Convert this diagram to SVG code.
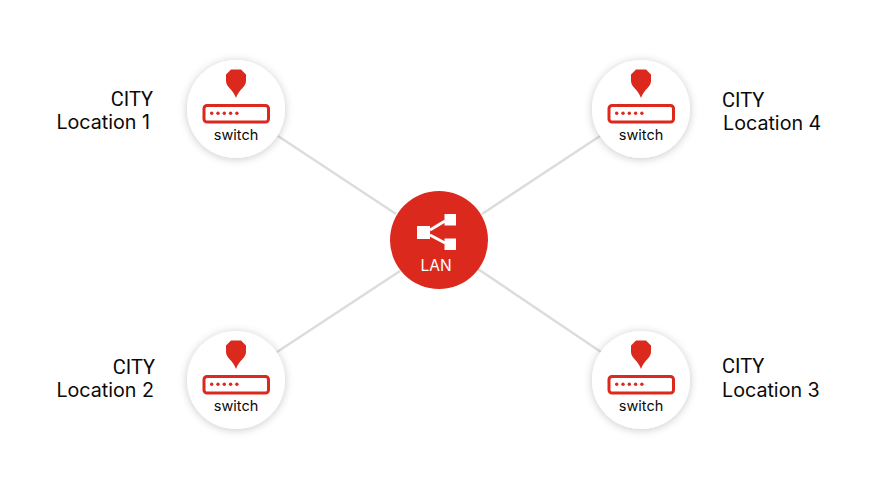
<svg xmlns="http://www.w3.org/2000/svg" width="874" height="488" viewBox="0 0 874 488">
<style>
text{font-family:Inter,Roboto,"Liberation Sans",sans-serif}
.disc{fill:#fff;filter:url(#sh)}
.box{fill:#fff;stroke:#dc291e;stroke-width:3}
.pin,.dot{fill:#dc291e}
.sw{font-size:14.500px;fill:#0a0a0a;text-anchor:middle}
.city{font-size:19.700px;fill:#0a0a0a}
.cap{font-family:Roboto,"Liberation Sans",sans-serif;font-size:20px}
.end{text-anchor:end}
.link{stroke:#dcdcdc;stroke-width:2.500;fill:none}
</style>
<defs>
<filter id="sh" x="-30%" y="-30%" width="160%" height="160%"><feDropShadow dx="0" dy="1" stdDeviation="4" flood-color="#000" flood-opacity="0.22"/></filter>
<g id="sw">
<circle class="disc" r="49"/>
<path class="pin" d="M-5 -39.500H5L10 -34.500V-28C10 -22 3 -20 0 -11C-3 -20 -10 -22 -10 -28V-34.500Z"/>
<rect class="box" x="-32" y="-3.500" width="64.500" height="16.500" rx="3"/>
<g class="dot"><circle cx="-24.300" cy="4.300" r="1.700"/><circle cx="-18" cy="4.300" r="1.700"/><circle cx="-11.700" cy="4.300" r="1.700"/><circle cx="-5.400" cy="4.300" r="1.700"/><circle cx="0.900" cy="4.300" r="1.700"/></g>
<text class="sw" y="31">switch</text>
</g>
</defs>
<g id="connectors">
<line class="link" x1="278" y1="136" x2="396" y2="214"/>
<line class="link" x1="600" y1="136" x2="482" y2="214"/>
<line class="link" x1="277" y1="352" x2="400" y2="271"/>
<line class="link" x1="601" y1="352" x2="478" y2="269"/>
</g>
<g id="node-1"><use href="#sw" x="236" y="109"/><text class="city cap end" x="153" y="106">CITY</text><text class="city end" x="150" y="129">Location 1</text></g>
<g id="node-2"><use href="#sw" x="236" y="380"/><text class="city cap end" x="155" y="374">CITY</text><text class="city end" x="154" y="397">Location 2</text></g>
<g id="node-3"><use href="#sw" x="641" y="380"/><text class="city cap" x="722" y="373">CITY</text><text class="city" x="722" y="397">Location 3</text></g>
<g id="node-4"><use href="#sw" x="641" y="109"/><text class="city cap" x="722" y="107">CITY</text><text class="city" x="723" y="130">Location 4</text></g>
<g id="lan">
<circle cx="439" cy="240" r="49" fill="#dc291e"/>
<path d="M430 230L445 221M430 235L445 243" stroke="#fff" stroke-width="3" fill="none"/>
<rect x="417" y="226" width="13" height="13" fill="#fff"/>
<rect x="444.500" y="214" width="11.500" height="11.500" fill="#fff"/>
<rect x="444.500" y="238.500" width="11.500" height="11.500" fill="#fff"/>
<text x="436" y="271" font-size="15.500" fill="#fff" text-anchor="middle">LAN</text>
</g>
</svg>
